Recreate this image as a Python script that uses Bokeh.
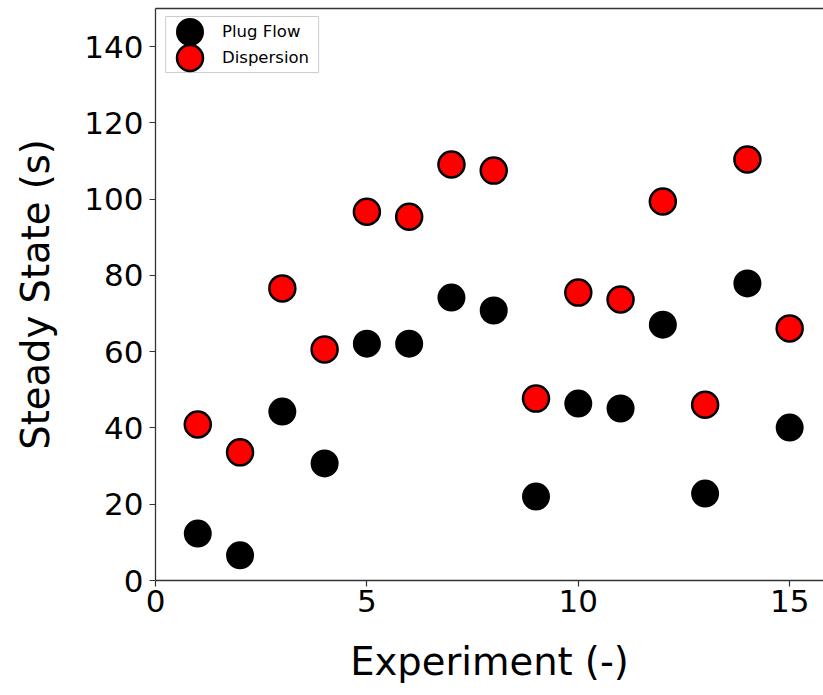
from bokeh.plotting import figure
from bokeh.models import FixedTicker, LinearAxis, Legend, LegendItem, BoxAnnotation
from bokeh.embed import file_html
from bokeh.resources import INLINE

experiment = list(range(1, 16))
plug_flow = [12.3, 6.6, 44.3, 30.7, 62.1, 62.1, 74.2, 70.8, 22.0, 46.4, 45.1, 67.1, 22.8, 77.9, 40.1]
dispersion = [40.9, 33.6, 76.6, 60.6, 96.7, 95.4, 109.1, 107.5, 47.7, 75.5, 73.7, 99.4, 46.1, 110.4, 66.1]
x_ticks = [0, 5, 10, 15]
y_ticks = [0, 20, 40, 60, 80, 100, 120, 140]

FONT = "DejaVu Sans"

p = figure(width=823, height=695, x_range=(0, 15.8), y_range=(0, 150),
           min_border_left=155, min_border_bottom=115, min_border_top=8, min_border_right=0,
           output_backend="svg", toolbar_location=None)
p.outline_line_color = None
p.xgrid.visible = False
p.ygrid.visible = False
p.background_fill_color = "white"
p.border_fill_color = "white"

r1 = p.scatter(experiment, plug_flow, size=26, fill_color="black", line_color="black", line_width=2)
r2 = p.scatter(experiment, dispersion, size=26, fill_color="red", line_color="black", line_width=2.5)

for ax, ticks in ((p.xaxis[0], x_ticks), (p.yaxis[0], y_ticks)):
    ax.ticker = FixedTicker(ticks=ticks)
    ax.minor_tick_line_color = None
    ax.major_tick_in = 0
    ax.major_tick_out = 6
    ax.major_tick_line_width = 1.2
    ax.axis_line_width = 1.3
    ax.axis_line_color = "#333333"
    ax.major_tick_line_color = "#333333"
    ax.major_label_text_font = FONT
    ax.major_label_text_font_size = "31px"
    ax.major_label_text_color = "black"
    ax.axis_label_text_font = FONT
    ax.axis_label_text_font_size = "38.5px"
    ax.axis_label_text_font_style = "normal"
    ax.axis_label_text_color = "black"

p.xaxis.axis_label = "Experiment (-)"
p.yaxis.axis_label = "Steady State (s)"
p.xaxis.axis_label_standoff = 24
p.yaxis.axis_label_standoff = 23
p.xaxis.major_label_standoff = 3
p.yaxis.major_label_standoff = 6

top = LinearAxis(ticker=FixedTicker(ticks=[]), major_label_text_font_size="0px",
                 axis_line_color="#333333", axis_line_width=1.3,
                 major_tick_line_color=None, minor_tick_line_color=None)
p.add_layout(top, "above")

# legend frame (matplotlib-style box)
box = BoxAnnotation(left=0.24, right=3.86, bottom=133.2, top=147.9,
                    fill_color="white", fill_alpha=1.0,
                    line_color="#cccccc", line_width=1, line_alpha=1.0)
p.add_layout(box)

legend_style = dict(margin=0, padding=0, glyph_height=65, glyph_width=65, label_standoff=0,
                    label_text_font=FONT, label_text_font_size="16.5px", label_text_color="black",
                    border_line_color=None, background_fill_alpha=0.0)
legend1 = Legend(items=[LegendItem(label="Plug Flow", renderers=[r1])],
                 location=(2, 516), **legend_style)
legend2 = Legend(items=[LegendItem(label="Dispersion", renderers=[r2])],
                 location=(2, 490), **legend_style)
p.add_layout(legend1)
p.add_layout(legend2)

open("out.html", "w").write(file_html(p, INLINE))
